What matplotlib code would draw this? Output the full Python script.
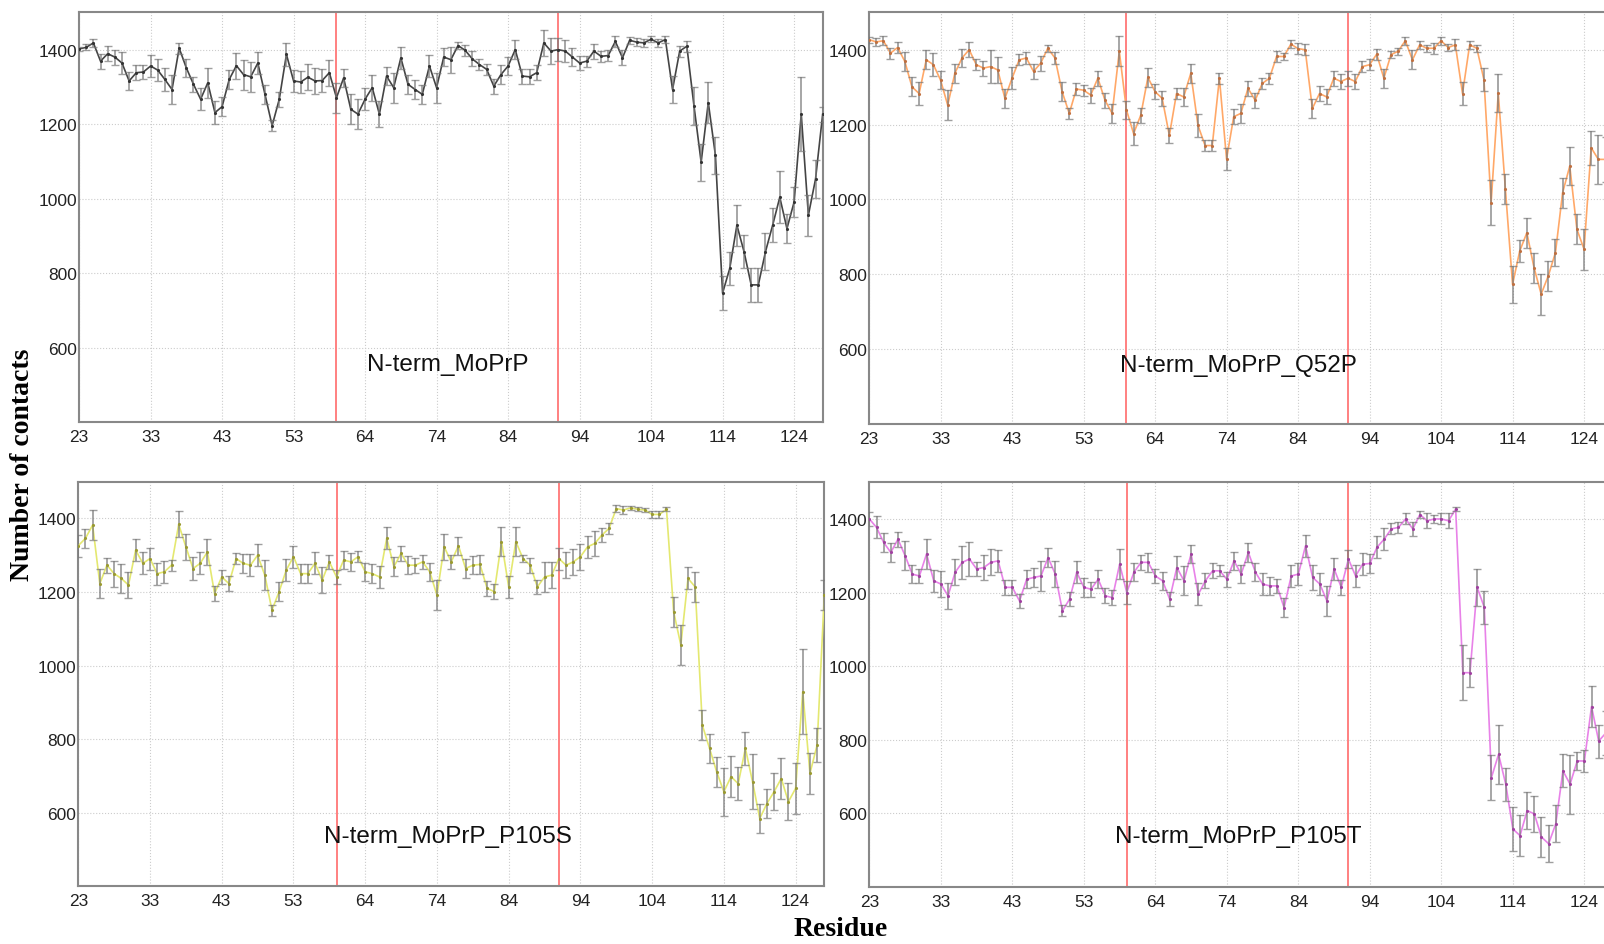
import numpy as np
import matplotlib
matplotlib.use('Agg')
import matplotlib.pyplot as plt

# residue tick labels (index based axis, ticks every 10 points)
tick_pos = [0, 10, 20, 30, 40, 50, 60, 70, 80, 90, 100]
tick_labels = ['23', '33', '43', '53', '64', '74', '84', '94', '104', '114', '124']
region_lines = [36, 67]

names = ['N-term_MoPrP', 'N-term_MoPrP_Q52P', 'N-term_MoPrP_P105S', 'N-term_MoPrP_P105T']

wt = [1402, 1406, 1418, 1369, 1389, 1380, 1364, 1316, 1338, 1340,
      1356, 1345, 1320, 1293, 1404, 1351, 1307, 1267, 1311, 1231,
      1247, 1320, 1357, 1333, 1327, 1364, 1280, 1196, 1267, 1387,
      1316, 1313, 1326, 1316, 1317, 1338, 1271, 1324, 1240, 1227,
      1267, 1298, 1227, 1329, 1298, 1378, 1307, 1293, 1280, 1356,
      1298, 1380, 1373, 1411, 1398, 1375, 1360, 1347, 1302, 1333,
      1356, 1400, 1329, 1327, 1338, 1418, 1396, 1400, 1396, 1380,
      1364, 1369, 1396, 1382, 1384, 1422, 1378, 1425, 1420, 1418,
      1428, 1418, 1427, 1293, 1396, 1409, 1249, 1098, 1258, 1116,
      747, 813, 929, 858, 769, 769, 858, 929, 1004, 920,
      991, 1227, 956, 1053, 1227]
wt_err = [5, 8, 10, 20, 20, 20, 30, 25, 20, 20,
          30, 30, 30, 40, 15, 25, 20, 30, 40, 30,
          25, 25, 35, 40, 40, 30, 25, 15, 20, 30,
          30, 30, 35, 35, 30, 35, 40, 25, 40, 40,
          30, 35, 35, 25, 40, 30, 25, 25, 25, 30,
          40, 25, 35, 10, 15, 20, 15, 15, 20, 25,
          25, 25, 20, 20, 20, 35, 35, 30, 30, 25,
          20, 15, 20, 15, 15, 15, 20, 10, 10, 10,
          8, 10, 10, 35, 15, 15, 50, 50, 55, 50,
          45, 45, 55, 45, 45, 45, 50, 45, 70, 40,
          40, 100, 55, 50, 20]

q52p = [1427, 1421, 1424, 1391, 1406, 1369, 1301, 1283, 1373, 1360,
        1319, 1252, 1337, 1378, 1400, 1360, 1351, 1355, 1346, 1270,
        1324, 1373, 1378, 1342, 1364, 1404, 1378, 1288, 1230, 1295,
        1292, 1279, 1324, 1265, 1230, 1396, 1239, 1176, 1225, 1326,
        1288, 1270, 1171, 1283, 1274, 1337, 1198, 1144, 1144, 1324,
        1108, 1221, 1230, 1297, 1265, 1310, 1324, 1382, 1382, 1415,
        1403, 1400, 1243, 1283, 1274, 1324, 1315, 1324, 1315, 1355,
        1360, 1388, 1324, 1387, 1396, 1424, 1373, 1413, 1404, 1404,
        1424, 1406, 1413, 1283, 1413, 1404, 1320, 991, 1284, 1027,
        773, 862, 911, 818, 747, 796, 858, 1018, 1089, 920,
        867, 1138, 1107, 1107, 1110]
q52p_err = [8, 10, 12, 15, 15, 25, 25, 30, 25, 30,
            25, 40, 25, 25, 20, 15, 20, 45, 35, 25,
            30, 15, 15, 20, 20, 10, 15, 25, 15, 15,
            15, 20, 20, 20, 25, 40, 25, 30, 20, 25,
            20, 20, 20, 15, 25, 25, 30, 15, 15, 15,
            30, 20, 25, 20, 20, 15, 15, 15, 10, 10,
            15, 15, 25, 20, 20, 20, 20, 20, 20, 15,
            15, 15, 25, 10, 10, 10, 25, 10, 10, 15,
            10, 10, 15, 30, 10, 10, 30, 60, 50, 40,
            50, 30, 40, 40, 55, 40, 35, 40, 50, 40,
            55, 45, 65, 60, 50]

p105s = [1326, 1346, 1382, 1223, 1273, 1250, 1237, 1219, 1314, 1278,
         1291, 1250, 1255, 1273, 1384, 1323, 1264, 1278, 1309, 1196,
         1241, 1223, 1291, 1278, 1273, 1300, 1246, 1151, 1201, 1260,
         1296, 1250, 1250, 1278, 1232, 1282, 1241, 1287, 1282, 1296,
         1255, 1250, 1241, 1346, 1269, 1305, 1273, 1273, 1282, 1255,
         1192, 1323, 1282, 1326, 1264, 1273, 1275, 1210, 1201, 1337,
         1214, 1337, 1291, 1273, 1214, 1241, 1246, 1291, 1273, 1282,
         1296, 1323, 1332, 1355, 1373, 1427, 1423, 1429, 1425, 1423,
         1411, 1411, 1425, 1146, 1056, 1237, 1214, 838, 775, 711,
         657, 698, 679, 775, 684, 584, 625, 657, 693, 630,
         666, 929, 707, 784, 1192]
p105s_err = [30, 25, 40, 40, 20, 35, 40, 35, 30, 30,
             30, 30, 30, 15, 35, 35, 30, 30, 35, 20,
             20, 20, 15, 25, 30, 30, 40, 15, 25, 30,
             30, 25, 25, 30, 35, 20, 20, 25, 25, 15,
             25, 25, 30, 30, 25, 20, 25, 20, 20, 25,
             40, 35, 20, 25, 25, 25, 25, 20, 20, 40,
             30, 40, 10, 20, 20, 40, 35, 30, 35, 35,
             35, 30, 35, 20, 15, 10, 10, 5, 5, 5,
             10, 10, 5, 40, 55, 30, 40, 40, 40, 40,
             65, 55, 45, 45, 75, 40, 40, 50, 55, 50,
             70, 115, 55, 45, 40]

p105t = [1400, 1377, 1336, 1309, 1345, 1300, 1250, 1245, 1305, 1232,
         1223, 1191, 1255, 1282, 1291, 1264, 1268, 1282, 1286, 1214,
         1214, 1177, 1236, 1241, 1245, 1295, 1250, 1150, 1182, 1255,
         1214, 1209, 1236, 1191, 1186, 1277, 1200, 1255, 1282, 1282,
         1245, 1232, 1182, 1268, 1232, 1305, 1195, 1232, 1259, 1259,
         1236, 1286, 1250, 1309, 1255, 1223, 1218, 1218, 1159, 1245,
         1250, 1327, 1241, 1223, 1177, 1264, 1214, 1291, 1245, 1277,
         1279, 1323, 1345, 1373, 1377, 1400, 1373, 1412, 1395, 1400,
         1400, 1395, 1427, 982, 982, 1214, 1160, 697, 760, 679,
         557, 539, 607, 598, 535, 517, 571, 715, 679, 742,
         742, 890, 796, 818, 840]
p105t_err = [20, 30, 25, 25, 20, 40, 25, 20, 40, 30,
             35, 35, 35, 45, 45, 20, 35, 35, 30, 20,
             20, 20, 25, 25, 40, 25, 35, 15, 20, 30,
             25, 20, 25, 20, 20, 40, 30, 25, 20, 25,
             20, 25, 20, 30, 40, 25, 30, 20, 20, 15,
             20, 25, 25, 25, 25, 30, 25, 20, 25, 30,
             30, 30, 35, 30, 40, 30, 20, 25, 30, 30,
             25, 30, 30, 15, 15, 15, 20, 10, 20, 10,
             15, 20, 5, 75, 40, 50, 45, 60, 80, 45,
             60, 55, 50, 50, 55, 50, 50, 45, 80, 25,
             30, 55, 45, 60, 50]

series = [wt, q52p, p105s, p105t]
errors = [wt_err, q52p_err, p105s_err, p105t_err]
line_colors = ['#444444', '#ffa868', '#e4e870', '#e882e8']
dot_colors = ['#333333', '#c07040', '#9a9a30', '#a040a0']
label_y = [557, 557, 537, 537]

# axes rectangles in figure fraction (left, bottom, width, height)
rects = [
    [0.0493, 0.5519, 0.4636, 0.4340],
    [0.5418, 0.5503, 0.4636, 0.4356],
    [0.0488, 0.0611, 0.4651, 0.4281],
    [0.5420, 0.0606, 0.4636, 0.4281],
]

fig = plt.figure(figsize=(16.04, 9.45), dpi=100)
x = np.arange(len(wt))

for k in range(4):
    ax = fig.add_axes(rects[k])
    y = np.array(series[k])
    e = np.array(errors[k])
    ax.plot(x, y, color=line_colors[k], linewidth=1.2, zorder=3)
    ax.errorbar(x, y, yerr=e, fmt='none', ecolor='#777777', elinewidth=1.3,
                capsize=3, capthick=1.0, alpha=0.7, zorder=4)
    ax.plot(x, y, linestyle='none', marker='.', markersize=2.5,
            color=dot_colors[k], zorder=5)
    for xv in region_lines:
        ax.axvline(xv, color='#ff8080', linewidth=1.4, zorder=2)

    ax.set_xlim(0, 104)
    ax.set_ylim(400, 1500)
    ax.set_xticks(tick_pos)
    ax.set_xticklabels(tick_labels, fontsize=12.5, family='Liberation Sans', color='#222222')
    ax.set_yticks([600, 800, 1000, 1200, 1400])
    ax.set_yticklabels(['600', '800', '1000', '1200', '1400'], fontsize=12.5,
                       family='Liberation Sans', color='#222222')
    ax.tick_params(length=0, pad=5)
    ax.tick_params(axis='y', pad=1.5)
    ax.grid(True, linestyle=':', color='#cccccc', linewidth=0.8)
    ax.set_axisbelow(True)
    for sp in ax.spines.values():
        sp.set_color('#888888')
        sp.set_linewidth(1.5)
    ax.text(51.6, label_y[k], names[k], ha='center', va='center', fontsize=17.5,
            family='Liberation Sans', color='#111111')

fig.text(0.014, 0.508, 'Number of contacts', rotation=90, ha='center', va='center',
         fontsize=20, fontweight='bold', family='Liberation Serif')
fig.text(0.524, 0.016, 'Residue', ha='center', va='center',
         fontsize=20, fontweight='bold', family='Liberation Serif')

fig.savefig('out.png', dpi=100)
